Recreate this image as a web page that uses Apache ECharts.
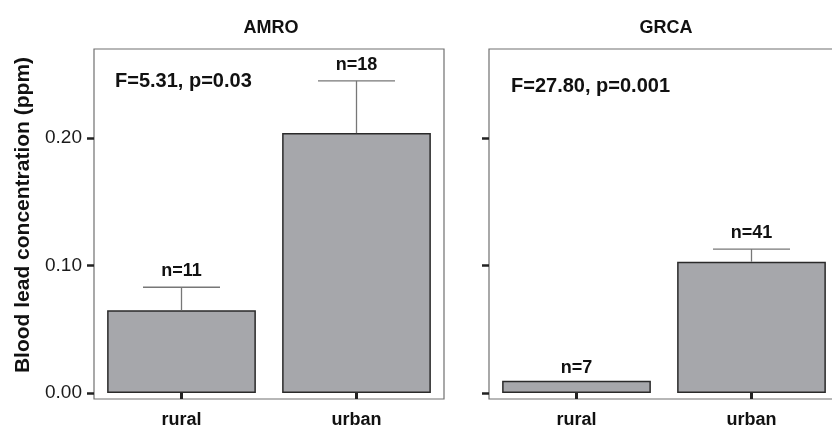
<!DOCTYPE html>
<html>
<head>
<meta charset="utf-8">
<script src="https://cdn.jsdelivr.net/npm/echarts@6/dist/echarts.min.js"></script>
<style>
html,body{margin:0;padding:0;background:#fff;}
#chart{width:832px;height:431px;}
</style>
</head>
<body>
<div id="chart"></div>
<script>
// ---- data ----
const categories = ['rural', 'urban'];
const panelTitles = ['AMRO', 'GRCA'];
const statLabels = ['F=5.31, p=0.03', 'F=27.80, p=0.001'];
const amroMean = [0.065, 0.204];
const amroUpper = [0.083, 0.245];
const amroN = [11, 18];
const grcaMean = [0.0097, 0.103];
const grcaUpper = [null, 0.113];
const grcaN = [7, 41];
const yTicks = [0, 0.1, 0.2];
const yName = 'Blood lead concentration (ppm)';

const FONT = '"Liberation Sans", Arial, Helvetica, sans-serif';
const chart = echarts.init(document.getElementById('chart'), null, {renderer: 'canvas'});

function errRender(params, api) {
  const x = api.value(0);
  const mean = api.value(1);
  const hi = api.value(2);
  const n = api.value(3);
  const band = api.size([1, 0])[0];
  const pMean = api.coord([x, mean]);
  const children = [];
  let topY = pMean[1];
  const hasErr = hi !== null && !isNaN(hi) && hi > mean;
  if (hasErr) {
    const pHi = api.coord([x, hi]);
    topY = pHi[1];
    const half = band * 0.22;
    const st = {stroke: '#777', lineWidth: 1.3};
    children.push({type: 'line', shape: {x1: pMean[0], y1: pMean[1], x2: pMean[0], y2: pHi[1]}, style: st});
    children.push({type: 'line', shape: {x1: pMean[0] - half, y1: pHi[1], x2: pMean[0] + half, y2: pHi[1]}, style: st});
  }
  children.push({
    type: 'text',
    style: {
      text: 'n=' + n,
      x: pMean[0],
      y: topY - (hasErr ? 7 : 4),
      align: 'center',
      verticalAlign: 'bottom',
      font: 'bold 18px ' + FONT,
      fill: '#111'
    }
  });
  return {type: 'group', children: children};
}

function errData(mean, upper, ns) {
  return categories.map((c, i) => [i, mean[i], upper[i] === null ? NaN : upper[i], ns[i]]);
}

const gridCommon = {top: 49, height: 350, width: 350, containLabel: false, outerBoundsMode: 'none', show: true, borderColor: '#707070', borderWidth: 1.2, backgroundColor: 'transparent'};

function xAxis(idx) {
  return {
    type: 'category', gridIndex: idx, data: categories, boundaryGap: true,
    axisLine: {show: false},
    axisTick: {show: true, alignWithLabel: true, length: 6, lineStyle: {color: '#222', width: 3}},
    axisLabel: {show: true, margin: 12, fontFamily: FONT, fontWeight: 'bold', fontSize: 18, color: '#111'},
    splitLine: {show: false}
  };
}
function yAxis(idx, showLabels) {
  const ax = {
    type: 'value', gridIndex: idx, min: -0.0047, max: 0.27,
    axisLine: {show: false},
    axisTick: {show: true, length: 7, customValues: yTicks, lineStyle: {color: '#222', width: 2.5}},
    axisLabel: {show: showLabels, margin: 12, customValues: yTicks, formatter: v => Number(v).toFixed(2), fontFamily: FONT, fontSize: 19, color: '#1a1a1a'},
    splitLine: {show: false}
  };
  if (showLabels) {
    ax.name = yName;
    ax.nameLocation = 'middle';
    ax.nameGap = 60;
    ax.nameTextStyle = {fontFamily: FONT, fontWeight: 'bold', fontSize: 21, color: '#111', padding: [0, 0, 0, 18]};
  }
  return ax;
}

const barStyle = {color: '#a6a7ab', borderColor: '#2a2a2a', borderWidth: 1.5};

const option = {
  animation: false,
  backgroundColor: '#fff',
  title: [
    {text: panelTitles[0], left: 266, top: 14, textAlign: 'center', textStyle: {fontFamily: FONT, fontWeight: 'bold', fontSize: 18, color: '#111'}},
    {text: panelTitles[1], left: 661, top: 14, textAlign: 'center', textStyle: {fontFamily: FONT, fontWeight: 'bold', fontSize: 18, color: '#111'}},
    {text: statLabels[0], left: 110, top: 66, textStyle: {fontFamily: FONT, fontWeight: 'bold', fontSize: 20, color: '#111'}},
    {text: statLabels[1], left: 506, top: 71, textStyle: {fontFamily: FONT, fontWeight: 'bold', fontSize: 20, color: '#111'}}
  ],
  grid: [
    Object.assign({left: 94}, gridCommon),
    Object.assign({left: 489}, gridCommon)
  ],
  xAxis: [xAxis(0), xAxis(1)],
  yAxis: [yAxis(0, true), yAxis(1, false)],
  series: [
    {type: 'bar', xAxisIndex: 0, yAxisIndex: 0, data: amroMean, barWidth: '85%', itemStyle: barStyle},
    {type: 'bar', xAxisIndex: 1, yAxisIndex: 1, data: grcaMean, barWidth: '85%', itemStyle: barStyle},
    {type: 'custom', xAxisIndex: 0, yAxisIndex: 0, renderItem: errRender, data: errData(amroMean, amroUpper, amroN), z: 5},
    {type: 'custom', xAxisIndex: 1, yAxisIndex: 1, renderItem: errRender, data: errData(grcaMean, grcaUpper, grcaN), z: 5}
  ]
};
chart.setOption(option);
</script>
</body>
</html>
